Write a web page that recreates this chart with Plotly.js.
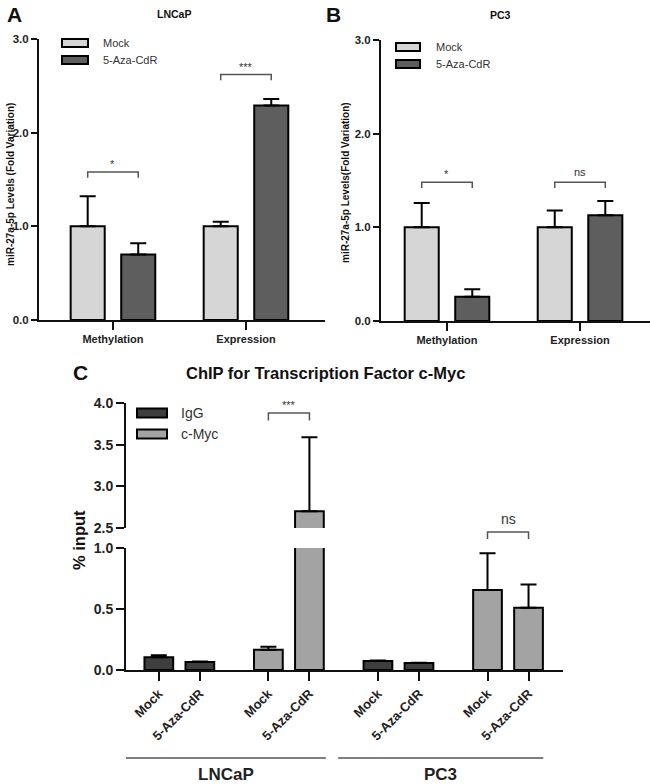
<!DOCTYPE html>
<html>
<head>
<meta charset="utf-8">
<script src="https://cdn.plot.ly/plotly-3.0.1.min.js"></script>
<style>html,body{margin:0;padding:0;background:#fff;}#chart{width:650px;height:784px;}</style>
</head>
<body>
<div id="chart"></div>
<script>
// ---------------- DATA ----------------
const abCategories = ['Methylation', 'Expression'];
const abSeries = ['Mock', '5-Aza-CdR'];
// Panel A – LNCaP
const lncapMock = [1.00, 1.00];
const lncapMockErr = [0.32, 0.05];
const lncapAza = [0.70, 2.29];
const lncapAzaErr = [0.12, 0.07];
const lncapSig = ['*', '***'];
// Panel B – PC3
const pc3Mock = [1.00, 1.00];
const pc3MockErr = [0.26, 0.18];
const pc3Aza = [0.26, 1.13];
const pc3AzaErr = [0.08, 0.15];
const pc3Sig = ['*', 'ns'];
// Panel C – ChIP c-Myc
const chipCells = ['LNCaP', 'PC3'];
const chipSeries = ['IgG', 'c-Myc'];
const chipTreatments = ['Mock', '5-Aza-CdR'];
const chipIgG = [0.105, 0.065, 0.074, 0.057];      // LNCaP Mock, LNCaP Aza, PC3 Mock, PC3 Aza
const chipIgGErr = [0.015, 0.004, 0.004, 0.003];
const chipMyc = [0.165, 2.70, 0.656, 0.51];
const chipMycErr = [0.025, 0.89, 0.30, 0.19];
const chipSig = ['***', 'ns'];

// ---------------- STYLE / LAYOUT HELPERS ----------------
const FONT = 'Liberation Sans, Arial, Helvetica, sans-serif';
const W = 650, H = 784;
const px = v => v / W;
const py = v => 1 - v / H;
const COL_MOCK = '#d6d6d6', COL_AZA = '#5e5e5e';
const COL_IGG = '#3e3e3e', COL_MYC = '#a3a3a3';
const BR_COL = '#555';

const barW = 0.256, halfSep = 0.19;
function errSpec(arr) {
  return {type: 'data', symmetric: false, array: arr, arrayminus: arr.map(() => 0),
          color: '#000', thickness: 2, width: 8};
}
const abX = abCategories.map((c, i) => i);

const traces = [];
function abTraces(mock, mockErr, aza, azaErr, xa, ya) {
  traces.push({type: 'bar', name: abSeries[0], x: abX, y: mock, xaxis: xa, yaxis: ya,
    width: barW, offset: -halfSep - barW / 2,
    marker: {color: COL_MOCK, line: {color: '#000', width: 2}}, error_y: errSpec(mockErr)});
  traces.push({type: 'bar', name: abSeries[1], x: abX, y: aza, xaxis: xa, yaxis: ya,
    width: barW, offset: halfSep - barW / 2,
    marker: {color: COL_AZA, line: {color: '#000', width: 2}}, error_y: errSpec(azaErr)});
}
abTraces(lncapMock, lncapMockErr, lncapAza, lncapAzaErr, 'x', 'y');
abTraces(pc3Mock, pc3MockErr, pc3Aza, pc3AzaErr, 'x2', 'y2');

// Panel C slot positions: slot = cell*4 + series*2 + treatment
const slotPos = i => i + 0.67 * Math.floor(i / 2);
const chipTickVals = [], chipTickText = [];
for (let i = 0; i < 8; i++) { chipTickVals.push(slotPos(i)); chipTickText.push(chipTreatments[i % 2]); }
const igX = [0, 1, 4, 5].map(slotPos);
const mycX = [2, 3, 6, 7].map(slotPos);
['y3', 'y4'].forEach(ya => {
  traces.push({type: 'bar', name: chipSeries[0], x: igX, y: chipIgG, xaxis: 'x3', yaxis: ya,
    width: 0.7, marker: {color: COL_IGG, line: {color: '#000', width: 2}}, error_y: errSpec(chipIgGErr)});
  traces.push({type: 'bar', name: chipSeries[1], x: mycX, y: chipMyc, xaxis: 'x3', yaxis: ya,
    width: 0.7, marker: {color: COL_MYC, line: {color: '#000', width: 2}}, error_y: errSpec(chipMycErr)});
});

// ---------------- AXES ----------------
const tf = (size) => ({family: FONT, size: size, weight: 'bold', color: '#222'});
const axBase = {showline: true, linewidth: 2, linecolor: '#111', ticks: 'outside', tickwidth: 2,
  tickcolor: '#111', showgrid: false, zeroline: false, fixedrange: true};

const layout = {
  width: W, height: H, margin: {l: 0, r: 0, t: 0, b: 0},
  paper_bgcolor: '#fff', plot_bgcolor: 'rgba(0,0,0,0)',
  showlegend: false, barmode: 'overlay',
  font: {family: FONT, color: '#222'},
  xaxis: Object.assign({}, axBase, {domain: [px(39), px(325)], range: [-0.556, 1.594], anchor: 'y',
    tickvals: abX, ticktext: abCategories, ticklen: 8, tickfont: tf(11)}),
  yaxis: Object.assign({}, axBase, {domain: [py(320), py(39)], range: [0, 3], anchor: 'x',
    tickvals: [0, 1, 2, 3], tickformat: '.1f', ticklen: 6, tickfont: tf(11.5)}),
  xaxis2: Object.assign({}, axBase, {domain: [px(381), 1], range: [-0.496, 1.526], anchor: 'y2',
    tickvals: abX, ticktext: abCategories, ticklen: 8, tickfont: tf(11)}),
  yaxis2: Object.assign({}, axBase, {domain: [py(321), py(40)], range: [0, 3], anchor: 'x2',
    tickvals: [0, 1, 2, 3], tickformat: '.1f', ticklen: 6, tickfont: tf(11.5)}),
  xaxis3: Object.assign({}, axBase, {domain: [px(126), px(563)], range: [-0.80, 9.85], anchor: 'y3',
    tickvals: chipTickVals, ticktext: chipTickText, tickangle: -45, ticklen: 9, tickfont: tf(13)}),
  yaxis3: Object.assign({}, axBase, {domain: [py(670), py(548)], range: [0, 1], anchor: 'x3',
    tickvals: [0, 0.5, 1], tickformat: '.1f', ticklen: 8, tickfont: tf(14)}),
  yaxis4: Object.assign({}, axBase, {domain: [py(528), py(403)], range: [2.5, 4.0], anchor: 'x3',
    tickvals: [2.5, 3, 3.5, 4], tickformat: '.1f', ticklen: 8, tickfont: tf(14)}),
  shapes: [], annotations: []
};

// ---------------- BRACKETS ----------------
function bracket(xref, yref, x0, x1, yTop, yBot) {
  layout.shapes.push({type: 'path', xref: xref, yref: yref,
    path: `M${x0},${yBot} L${x0},${yTop} L${x1},${yTop} L${x1},${yBot}`,
    line: {color: BR_COL, width: 1.5}});
}
function sigText(xref, yref, x, y, text, size, yshift) {
  layout.annotations.push({xref: xref, yref: yref, x: x, y: y, text: text, showarrow: false,
    xanchor: 'center', yanchor: 'bottom', yshift: yshift, font: {family: FONT, size: size, color: '#333'}});
}
// Panel A
bracket('x', 'y', -halfSep, halfSep, 1.58, 1.52); sigText('x', 'y', 0, 1.58, lncapSig[0], 11, 0);
bracket('x', 'y', 1 - halfSep, 1 + halfSep, 2.62, 2.56); sigText('x', 'y', 1, 2.62, lncapSig[1], 11, 0);
// Panel B
bracket('x2', 'y2', -halfSep, halfSep, 1.48, 1.42); sigText('x2', 'y2', 0, 1.48, pc3Sig[0], 11, 0);
bracket('x2', 'y2', 1 - halfSep, 1 + halfSep, 1.48, 1.42); sigText('x2', 'y2', 1, 1.48, pc3Sig[1], 11, 2);
// Panel C
bracket('x3', 'y4', mycX[0], mycX[1], 3.88, 3.79); sigText('x3', 'y4', (mycX[0] + mycX[1]) / 2, 3.88, chipSig[0], 11, 0);
bracket('x3', 'paper', mycX[2], mycX[3], py(532), py(539));
sigText('x3', 'paper', (mycX[2] + mycX[3]) / 2, py(532), chipSig[1], 14, 3);

// group lines + cell labels under panel C
const groupSpans = [[-0.80, 4.07], [4.37, 9.37]];
chipCells.forEach((c, k) => {
  const [a, b] = groupSpans[k];
  layout.shapes.push({type: 'line', xref: 'x3', yref: 'paper', x0: a, x1: b, y0: py(758), y1: py(758),
    line: {color: '#555', width: 1.5}});
  layout.annotations.push({xref: 'x3', yref: 'paper', x: (a + b) / 2, y: py(774), text: c, showarrow: false,
    xanchor: 'center', yanchor: 'middle', font: {family: FONT, size: 17, weight: 'bold', color: '#222'}});
});

// ---------------- LEGENDS (drawn swatches) ----------------
function legendItem(x0, x1, yc, h, color, label, tx, size) {
  layout.shapes.push({type: 'rect', xref: 'paper', yref: 'paper', x0: px(x0), x1: px(x1),
    y0: py(yc + h / 2), y1: py(yc - h / 2), fillcolor: color, line: {color: '#000', width: 2}});
  layout.annotations.push({xref: 'paper', yref: 'paper', x: px(tx), y: py(yc), text: label, showarrow: false,
    xanchor: 'left', yanchor: 'middle', font: {family: FONT, size: size, color: '#333'}});
}
legendItem(62, 88, 43, 8, COL_MOCK, abSeries[0], 101, 11);
legendItem(62, 88, 60, 8, COL_AZA, abSeries[1], 101, 11);
legendItem(396, 420, 47, 8, COL_MOCK, abSeries[0], 434, 11);
legendItem(396, 420, 64, 8, COL_AZA, abSeries[1], 434, 11);
legendItem(137, 167, 413, 9, COL_IGG, chipSeries[0], 179, 14);
legendItem(137, 167, 434, 9, COL_MYC, chipSeries[1], 179, 14);

// ---------------- TITLES / LABELS ----------------
function txt(x, y, text, size, bold, angle) {
  layout.annotations.push({xref: 'paper', yref: 'paper', x: px(x), y: py(y), text: text, showarrow: false,
    xanchor: 'center', yanchor: 'middle', textangle: angle || 0,
    font: {family: FONT, size: size, weight: bold ? 'bold' : 'normal', color: '#111'}});
}
txt(14, 14, 'A', 21, true);
txt(174, 14, 'LNCaP', 10.5, true);
txt(333, 14, 'B', 21, true);
txt(500, 15, 'PC3', 10.5, true);
txt(11, 185, 'miR-27a-5p Levels (Fold Variation)', 10, true, -90);
txt(345, 183, 'miR-27a-5p Levels(Fold Variation)', 10, true, -90);
txt(80, 373, 'C', 21, true);
txt(326, 373, 'ChIP for Transcription Factor c-Myc', 16.5, true);
txt(79, 540, '% input', 16.5, true, -90);

Plotly.newPlot('chart', traces, layout, {displayModeBar: false, staticPlot: true});
</script>
</body>
</html>
